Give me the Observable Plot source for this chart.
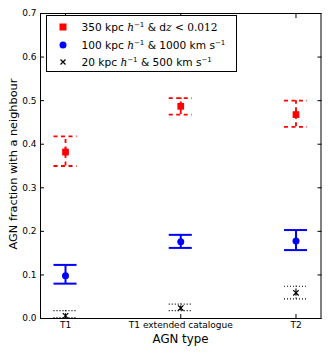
<!DOCTYPE html>
<html>
<head>
<meta charset="utf-8">
<script src="https://cdn.jsdelivr.net/npm/d3@7"></script>
<script src="https://cdn.jsdelivr.net/npm/@observablehq/plot@0.6"></script>
<style>
  body { margin: 0; background: #fff; }
  #wrap { position: relative; width: 329px; height: 357px; font-family: "DejaVu Sans", sans-serif; }
  #legend { position: absolute; left: 45.5px; top: 15px; width: 189px; height: 55px; border: 1px solid #000; background: #fff; font-size: 10.6px; color: #000; }
  .row { position: absolute; left: 0; height: 16px; line-height: 16px; white-space: nowrap; }
  .row .txt { position: absolute; left: 35px; }
  .m { font-family: "DejaVu Serif", serif; font-style: italic; }
  .n { font-family: "DejaVu Serif", serif; }
  sup { font-size: 7px; vertical-align: 0; position: relative; top: -4px; }
  .mk { position: absolute; }
  .lab { position: absolute; white-space: nowrap; color: #000; transform: translate(-50%, -50%); }
</style>
</head>
<body>
<div id="wrap"></div>
<script>
const categories = ["T1", "T1 extended catalogue", "T2"];
const yTicks = [0.0, 0.1, 0.2, 0.3, 0.4, 0.5, 0.6, 0.7];
const yLabel = "AGN fraction with a neighbour";
const xLabel = "AGN type";

// 350 kpc h^-1 & dz < 0.012 (red squares)
const redValue = [0.382, 0.487, 0.468];
const redLow   = [0.350, 0.468, 0.440];
const redHigh  = [0.418, 0.506, 0.500];
const redErr   = [0.010, 0.010, 0.010];

// 100 kpc h^-1 & 1000 km s^-1 (blue circles)
const blueValue = [0.098, 0.176, 0.178];
const blueLow   = [0.080, 0.162, 0.157];
const blueHigh  = [0.123, 0.192, 0.203];

// 20 kpc h^-1 & 500 km s^-1 (black crosses)
const blackValue = [0.006, 0.024, 0.059];
const blackLow   = [0.002, 0.018, 0.045];
const blackHigh  = [0.018, 0.033, 0.074];
const blackErr   = [0.004, 0.005, 0.007];

const capHalf = 0.1;
const idx = categories.map((_, i) => i);
const rows = (v, lo, hi, e) => idx.map(i => ({x: i, v: v[i], lo: lo[i], hi: hi[i], e: e ? e[i] : 0}));
const red = rows(redValue, redLow, redHigh, redErr);
const blue = rows(blueValue, blueLow, blueHigh);
const black = rows(blackValue, blackLow, blackHigh, blackErr);

function errorMarks(data, color, width, dash) {
  return [
    Plot.ruleX(data, {x: "x", y1: "lo", y2: "hi", stroke: color, strokeWidth: width, strokeDasharray: dash}),
    Plot.ruleY(data, {y: "lo", x1: d => d.x - capHalf, x2: d => d.x + capHalf, stroke: color, strokeWidth: width, strokeDasharray: dash}),
    Plot.ruleY(data, {y: "hi", x1: d => d.x - capHalf, x2: d => d.x + capHalf, stroke: color, strokeWidth: width, strokeDasharray: dash})
  ];
}

const chart = Plot.plot({
  width: 329,
  height: 357,
  marginLeft: 40,
  marginRight: 8.5,
  marginTop: 13,
  marginBottom: 39,
  style: {fontFamily: "DejaVu Sans, sans-serif", background: "#fff", color: "#000"},
  x: {type: "linear", domain: [-0.217, 2.217]},
  y: {domain: [0, 0.7]},
  marks: [
    ...errorMarks(red, "#ff0000", 1.8, "4,3.5"),
    Plot.ruleX(red, {x: "x", y1: d => d.v - d.e, y2: d => d.v + d.e, stroke: "#ff0000", strokeWidth: 1.8}),
    Plot.dot(red, {x: "x", y: "v", symbol: "square", r: 3.8, fill: "#ff0000", stroke: "none"}),
    ...errorMarks(blue, "#0000ff", 2, null),
    Plot.dot(blue, {x: "x", y: "v", symbol: "circle", r: 3.5, fill: "#0000ff", stroke: "none"}),
    ...errorMarks(black, "#000", 1.2, "1,2"),
    Plot.ruleX(black, {x: "x", y1: d => d.v - d.e, y2: d => d.v + d.e, stroke: "#000", strokeWidth: 1}),
    Plot.dot(black, {x: "x", y: "v", symbol: "times", r: 2.6, stroke: "#000", strokeWidth: 1.2}),
    Plot.frame({stroke: "#000", strokeWidth: 1}),
    Plot.axisY(yTicks, {anchor: "left", tickSize: 0, tickPadding: 4, tickFormat: d3.format(".1f"), fontSize: 9, label: null}),
    Plot.axisY(yTicks, {anchor: "left", tickSize: -4, tickFormat: () => "", label: null}),
    Plot.axisY(yTicks, {anchor: "right", tickSize: -4, tickFormat: () => "", label: null}),
    Plot.axisX(idx, {anchor: "bottom", tickSize: 0, tickPadding: 3, tickFormat: i => categories[i], fontSize: 9, label: null}),
    Plot.axisX(idx, {anchor: "bottom", tickSize: -4, tickFormat: () => "", label: null}),
    Plot.axisX(idx, {anchor: "top", tickSize: -4, tickFormat: () => "", label: null})
  ]
});

const wrap = document.getElementById("wrap");
wrap.appendChild(chart);

const yl = document.createElement("div");
yl.className = "lab";
yl.textContent = yLabel;
yl.style.cssText = "left:13px;top:164px;font-size:11.3px;transform:translate(-50%,-50%) rotate(-90deg);";
wrap.appendChild(yl);

const xl = document.createElement("div");
xl.className = "lab";
xl.textContent = xLabel;
xl.style.cssText = "left:180.5px;top:339px;font-size:11.8px;";
wrap.appendChild(xl);

const legend = document.createElement("div");
legend.id = "legend";
legend.innerHTML = `
  <div class="row" style="top:3px;"><svg class="mk" width="10" height="10" style="left:11px;top:3px"><rect x="1.5" y="1.5" width="7" height="7" fill="#ff0000"/></svg>
    <span class="txt">350 kpc <span class="m">h</span><sup>−1</sup> &amp; d<span class="m">z</span><span class="n"> &lt; 0.012</span></span></div>
  <div class="row" style="top:20.5px;"><svg class="mk" width="10" height="10" style="left:11px;top:3px"><circle cx="5" cy="5" r="3.5" fill="#0000ff"/></svg>
    <span class="txt">100 kpc <span class="m">h</span><sup>−1</sup> &amp; 1000 km s<sup>−1</sup></span></div>
  <div class="row" style="top:38px;"><svg class="mk" width="10" height="10" style="left:11px;top:3px"><path d="M2.5,2.5L7.5,7.5M7.5,2.5L2.5,7.5" stroke="#000" stroke-width="1.2"/></svg>
    <span class="txt">20 kpc <span class="m">h</span><sup>−1</sup> &amp; 500 km s<sup>−1</sup></span></div>
`;
wrap.appendChild(legend);
</script>
</body>
</html>
